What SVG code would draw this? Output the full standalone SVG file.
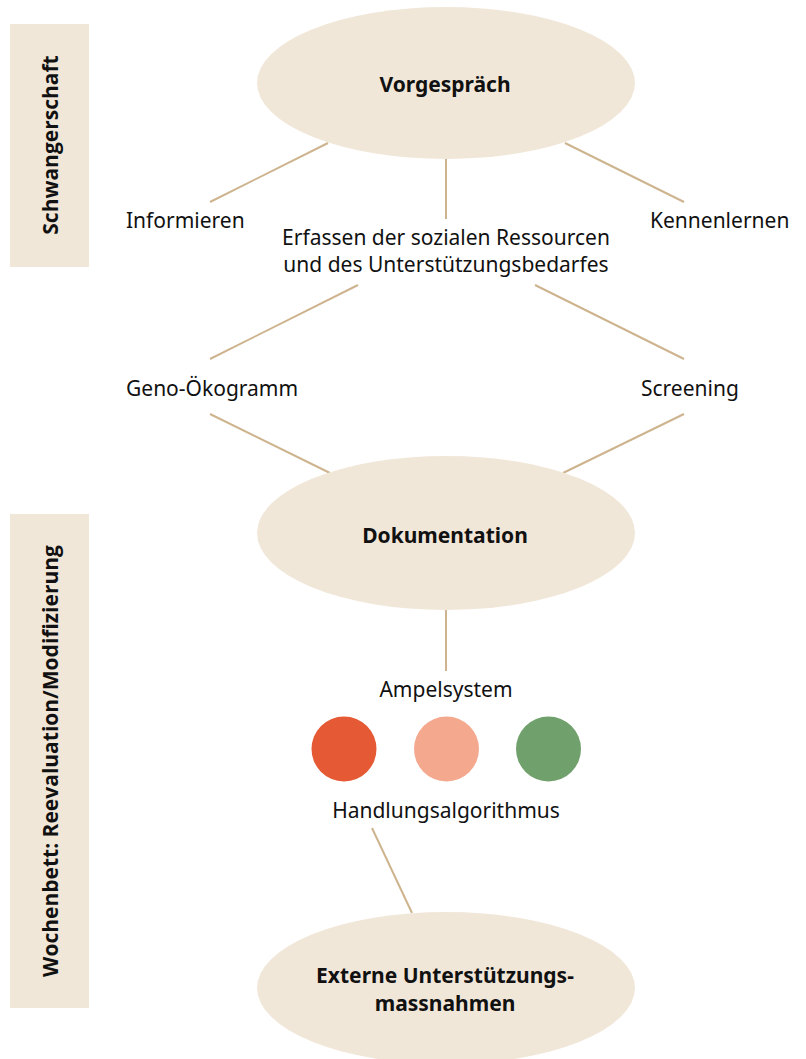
<svg xmlns="http://www.w3.org/2000/svg" width="806" height="1059" viewBox="0 0 806 1059">
  <style>
    .bg { fill: #F1E7D9; }
    .ln { stroke: #CDB48E; stroke-width: 2; fill: none; }
    .lbl { font-family: "Noto Sans", "Open Sans", sans-serif; font-size: 21px; fill: #111; }
    .hd { font-family: "Noto Sans", "Open Sans", sans-serif; font-size: 21px; font-weight: bold; fill: #111; text-anchor: middle; }
    .band { font-family: "Open Sans", "Noto Sans", sans-serif; font-size: 21px; font-weight: bold; fill: #111; text-anchor: middle; }
  </style>
  <rect width="806" height="1059" fill="#FFFFFF"/>

  <g id="band-schwangerschaft">
    <rect class="bg" x="10" y="24" width="79" height="243"/>
    <text class="band" transform="translate(58,145) rotate(-90)">Schwangerschaft</text>
  </g>
  <g id="band-wochenbett">
    <rect class="bg" x="10" y="514" width="79" height="494"/>
    <text class="band" transform="translate(58,761) rotate(-90)">Wochenbett: Reevaluation/Modifizierung</text>
  </g>

  <g id="connectors">
    <line class="ln" x1="328" y1="143" x2="210" y2="202"/>
    <line class="ln" x1="446" y1="159" x2="446" y2="219"/>
    <line class="ln" x1="565" y1="143" x2="684" y2="202"/>
    <line class="ln" x1="358" y1="285" x2="210" y2="359"/>
    <line class="ln" x1="535" y1="285" x2="684" y2="359"/>
    <line class="ln" x1="210" y1="414" x2="330" y2="473"/>
    <line class="ln" x1="684" y1="414" x2="563" y2="473"/>
    <line class="ln" x1="446" y1="610" x2="446" y2="671"/>
    <line class="ln" x1="372" y1="828" x2="412" y2="913"/>
  </g>

  <g id="vorgespraech">
    <ellipse class="bg" cx="446" cy="83" rx="189" ry="76"/>
    <text class="hd" x="445" y="92">Vorgespräch</text>
  </g>
  <g id="informieren">
    <text class="lbl" x="126" y="228">Informieren</text>
  </g>
  <g id="kennenlernen">
    <text class="lbl" x="650" y="228">Kennenlernen</text>
  </g>
  <g id="erfassen">
    <text class="lbl" x="446" y="245" text-anchor="middle">Erfassen der sozialen Ressourcen</text>
    <text class="lbl" x="446" y="272" text-anchor="middle">und des Unterstützungsbedarfes</text>
  </g>
  <g id="geno">
    <text class="lbl" x="126" y="396">Geno-Ökogramm</text>
  </g>
  <g id="screening">
    <text class="lbl" x="641" y="396">Screening</text>
  </g>
  <g id="dokumentation">
    <ellipse class="bg" cx="446" cy="533" rx="189" ry="77"/>
    <text class="hd" x="445" y="543">Dokumentation</text>
  </g>
  <g id="ampelsystem">
    <text class="lbl" x="446" y="697" text-anchor="middle">Ampelsystem</text>
    <circle cx="344" cy="749" r="32.5" fill="#E55A35"/>
    <circle cx="446.5" cy="749" r="32.5" fill="#F4A98E"/>
    <circle cx="548.5" cy="749" r="32.5" fill="#70A16D"/>
  </g>
  <g id="handlungsalgorithmus">
    <text class="lbl" x="446" y="818" text-anchor="middle">Handlungsalgorithmus</text>
  </g>
  <g id="externe">
    <ellipse class="bg" cx="446" cy="988" rx="189" ry="76"/>
    <text class="hd" x="445" y="983">Externe Unterstützungs-</text>
    <text class="hd" x="445" y="1011">massnahmen</text>
  </g>
</svg>
